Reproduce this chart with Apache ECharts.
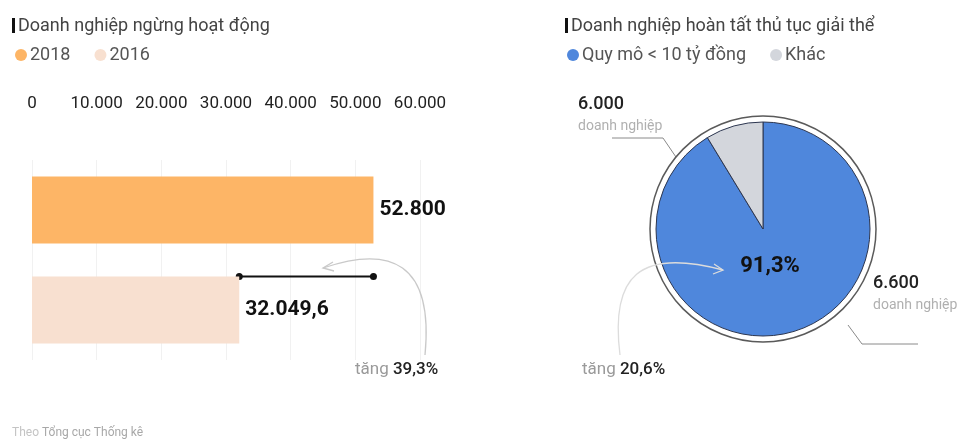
<!DOCTYPE html>
<html>
<head>
<meta charset="utf-8">
<script src="https://cdn.jsdelivr.net/npm/echarts@6/dist/echarts.min.js"></script>
<style>
  html, body { margin: 0; padding: 0; background: #fff; }
  #chart { width: 961px; height: 440px; }
</style>
</head>
<body>
<div id="chart"></div>
<script>
// Doanh nghiệp ngừng hoạt động (bar) and hoàn tất thủ tục giải thể (pie)
const barTitle = 'Doanh nghiệp ngừng hoạt động';
const barYears = ['2018', '2016'];
const barValues = [52800, 32049.6];
const barColors = ['#fdb566', '#f8e0d0'];
const barTicks = [0, 10000, 20000, 30000, 40000, 50000, 60000];

const pieTitle = 'Doanh nghiệp hoàn tất thủ tục giải thể';
const pieNames = ['Quy mô < 10 tỷ đồng', 'Khác'];
const pieShares = [91.3, 8.7];
const pieColors = ['#4f87dc', '#d3d6dc'];
const pieCounts = ['6.000', '6.600'];
const pieCountUnit = 'doanh nghiệp';
const pieGrowth = 20.6;
const sourceText = ['Theo', 'Tổng cục Thống kê'];

const FONT = 'Roboto, "Noto Sans", sans-serif';

// Vietnamese number format: "." thousands, "," decimals
function vn(v, digits) {
  const s = digits == null ? String(v) : v.toFixed(digits);
  const parts = s.split('.');
  parts[0] = parts[0].replace(/\B(?=(\d{3})+(?!\d))/g, '.');
  return parts.length > 1 ? parts[0] + ',' + parts[1] : parts[0];
}

const chart = echarts.init(document.getElementById('chart'), null, { renderer: 'canvas' });

const barSeries = barYears.map((y, i) => ({
  name: y,
  type: 'bar',
  stack: 'one',
  barWidth: 67,
  itemStyle: { color: barColors[i] },
  data: barYears.map((_, j) => (j === i ? barValues[i] : '-')),
  label: {
    show: true,
    position: 'right',
    distance: 6,
    fontFamily: FONT,
    fontSize: 21,
    fontWeight: 'bold',
    color: '#111',
    formatter: p => vn(p.value)
  },
  silent: true
}));

const legendText = { fontFamily: FONT, fontSize: 18, color: '#555', padding: [0, 0, 0, -2] };

const option = {
  animation: false,
  backgroundColor: '#fff',
  legend: [
    {
      left: 10, top: 41,
      icon: 'circle', itemWidth: 12, itemHeight: 12, itemGap: 24,
      itemStyle: { borderWidth: 0 },
      textStyle: legendText,
      data: barYears.map((y, i) => ({ name: y, itemStyle: { color: barColors[i] } }))
    },
    {
      left: 562, top: 41,
      icon: 'circle', itemWidth: 12, itemHeight: 12, itemGap: 24,
      itemStyle: { borderWidth: 0 },
      textStyle: legendText,
      data: pieNames
    }
  ],
  grid: { left: 32, width: 388, top: 160, height: 200 },
  xAxis: {
    type: 'value',
    position: 'top',
    min: barTicks[0],
    max: barTicks[barTicks.length - 1],
    interval: barTicks[1] - barTicks[0],
    axisLine: { show: false },
    axisTick: { show: false },
    splitLine: { show: true, lineStyle: { color: '#f1f1f1', width: 1 } },
    axisLabel: {
      margin: 48,
      fontFamily: FONT,
      fontSize: 17,
      color: '#222',
      formatter: v => vn(v)
    }
  },
  yAxis: {
    type: 'category',
    inverse: true,
    data: barYears,
    axisLine: { show: false },
    axisTick: { show: false },
    axisLabel: { show: false }
  },
  series: [
    ...barSeries,
    {
      // outer ring
      type: 'pie',
      center: [763, 229],
      radius: [0, 113],
      silent: true,
      label: { show: false },
      labelLine: { show: false },
      itemStyle: { color: '#fff', borderColor: '#5a5a5a', borderWidth: 1.5 },
      legendHoverLink: false,
      data: [{ value: 1, name: '__ring' }]
    },
    {
      type: 'pie',
      center: [763, 229],
      radius: [0, 107],
      startAngle: 90,
      clockwise: true,
      silent: true,
      label: { show: false },
      labelLine: { show: false },
      itemStyle: { borderColor: '#2c3650', borderWidth: 1 },
      data: pieNames.map((n, i) => ({ name: n, value: pieShares[i], itemStyle: { color: pieColors[i] } }))
    }
  ]
};

chart.setOption(option);

// Annotations: connector between the two bar ends, growth notes, titles, leader lines
const x16 = chart.convertToPixel({ xAxisIndex: 0 }, barValues[1]);
const x18 = chart.convertToPixel({ xAxisIndex: 0 }, barValues[0]);
const yCat16 = chart.convertToPixel({ yAxisIndex: 0 }, barYears[1]);
const yTop16 = yCat16 - 67 / 2;
const growthBar = ((barValues[0] - barValues[1]) / barValues[0] * 100);

const grey = '#c9c9c9';
const graphics = [
  // title markers + titles
  { type: 'rect', shape: { x: 12, y: 18, width: 3, height: 15 }, style: { fill: '#111' } },
  { type: 'text', style: { x: 18, y: 26, text: barTitle, font: '18px ' + FONT, fill: '#444', verticalAlign: 'middle', textVerticalAlign: 'middle' } },
  { type: 'rect', shape: { x: 565, y: 18, width: 3, height: 15 }, style: { fill: '#111' } },
  { type: 'text', style: { x: 571, y: 26, text: pieTitle, font: '18px ' + FONT, fill: '#444', verticalAlign: 'middle', textVerticalAlign: 'middle' } },

  // connector from 2016 to 2018 value
  { type: 'line', shape: { x1: x16, y1: yTop16, x2: x18, y2: yTop16 }, style: { stroke: '#111', lineWidth: 2 } },
  { type: 'circle', shape: { cx: x16, cy: yTop16, r: 3.5 }, style: { fill: '#111' } },
  { type: 'circle', shape: { cx: x18, cy: yTop16, r: 3.5 }, style: { fill: '#111' } },

  // curved arrow for bar growth
  { type: 'bezierCurve', shape: { x1: 425, y1: 355, cpx1: 434, cpy1: 262, cpx2: 390, cpy2: 245, x2: 323, y2: 268 }, style: { stroke: grey, lineWidth: 1.3, fill: null } },
  { type: 'polyline', shape: { points: [[333, 262], [323, 268], [334, 271]] }, style: { stroke: grey, lineWidth: 1.3, fill: null } },
  {
    type: 'text',
    style: {
      x: 355, y: 370,
      text: '{a|tăng }{b|' + vn(growthBar, 1) + '%}',
      verticalAlign: 'middle', textVerticalAlign: 'middle',
      rich: {
        a: { fontFamily: FONT, fontSize: 17, fill: '#9a9a9a', color: '#9a9a9a' },
        b: { fontFamily: FONT, fontSize: 17, fill: '#222', color: '#222', fontWeight: 500 }
      }
    }
  },

  // pie count labels with leader lines
  { type: 'text', style: { x: 578, y: 104, text: pieCounts[0], font: '500 18px ' + FONT, fill: '#222', verticalAlign: 'middle', textVerticalAlign: 'middle' } },
  { type: 'text', style: { x: 578, y: 126, text: pieCountUnit, font: '14px ' + FONT, fill: '#b0b0b0', verticalAlign: 'middle', textVerticalAlign: 'middle' } },
  { type: 'polyline', shape: { points: [[612, 138], [663, 138], [678, 160]] }, style: { stroke: '#8a8a8a', lineWidth: 1, fill: null } },

  { type: 'text', style: { x: 873, y: 283, text: pieCounts[1], font: '500 18px ' + FONT, fill: '#222', verticalAlign: 'middle', textVerticalAlign: 'middle' } },
  { type: 'text', style: { x: 873, y: 305, text: pieCountUnit, font: '14px ' + FONT, fill: '#b0b0b0', verticalAlign: 'middle', textVerticalAlign: 'middle' } },
  { type: 'polyline', shape: { points: [[848, 325], [862, 344], [918, 344]] }, style: { stroke: '#8a8a8a', lineWidth: 1, fill: null } },

  // curved arrow for pie growth (drawn over the pie)
  { type: 'bezierCurve', z: 100, shape: { x1: 620, y1: 355, cpx1: 610, cpy1: 275, cpx2: 640, cpy2: 248, x2: 723, y2: 270 }, style: { stroke: '#dcdcdc', lineWidth: 1.3, fill: null } },
  { type: 'polyline', z: 100, shape: { points: [[714, 264], [723, 270], [713, 274]] }, style: { stroke: '#dcdcdc', lineWidth: 1.3, fill: null } },
  {
    type: 'text',
    style: {
      x: 582, y: 370,
      text: '{a|tăng }{b|' + vn(pieGrowth, 1) + '%}',
      verticalAlign: 'middle', textVerticalAlign: 'middle',
      rich: {
        a: { fontFamily: FONT, fontSize: 17, fill: '#9a9a9a', color: '#9a9a9a' },
        b: { fontFamily: FONT, fontSize: 17, fill: '#222', color: '#222', fontWeight: 500 }
      }
    }
  },

  // pie centre share
  { type: 'text', z: 100, style: { x: 770, y: 266, text: vn(pieShares[0], 1) + '%', font: 'bold 22px ' + FONT, fill: '#111', align: 'center', textAlign: 'center', verticalAlign: 'middle', textVerticalAlign: 'middle' } },

  // source
  {
    type: 'text',
    style: {
      x: 12, y: 433,
      text: '{a|' + sourceText[0] + ' }{b|' + sourceText[1] + '}',
      verticalAlign: 'middle', textVerticalAlign: 'middle',
      rich: {
        a: { fontFamily: FONT, fontSize: 12, fill: '#c4c4c4', color: '#c4c4c4' },
        b: { fontFamily: FONT, fontSize: 12, fill: '#a8a8a8', color: '#a8a8a8' }
      }
    }
  }
];

chart.setOption({ graphic: graphics });
</script>
</body>
</html>
